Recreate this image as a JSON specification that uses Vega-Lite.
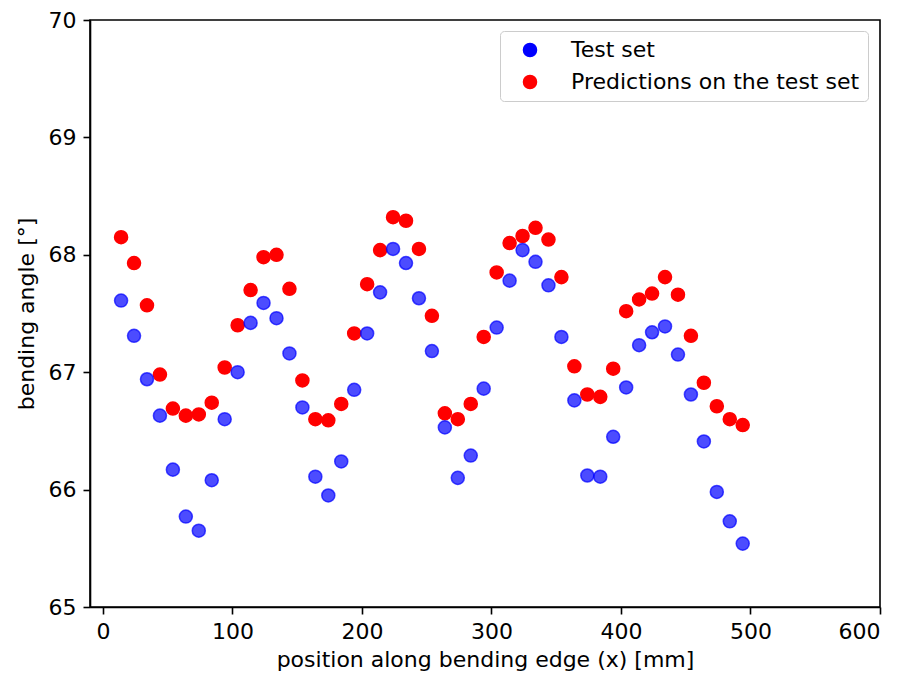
{
  "$schema": "https://vega.github.io/schema/vega-lite/v6.json",
  "width": 790,
  "height": 587,
  "autosize": {"type": "none"},
  "padding": {"left": 90, "top": 20, "right": 26, "bottom": 68},
  "background": "white",
  "config": {
    "font": "DejaVu Sans",
    "view": {"stroke": "black", "strokeWidth": 1.6},
    "axis": {
      "domainColor": "black", "domainWidth": 1.6,
      "tickColor": "black", "tickWidth": 1.6, "tickSize": 7,
      "labelColor": "black", "labelFontSize": 22, "labelFont": "DejaVu Sans", "labelPadding": 7,
      "titleColor": "black", "titleFontSize": 22, "titleFont": "DejaVu Sans", "titleFontWeight": "normal",
      "grid": false
    },
    "legend": {
      "labelFontSize": 22, "labelColor": "black", "labelFont": "DejaVu Sans", "labelLimit": 500,
      "symbolType": "circle", "symbolSize": 170, "symbolStrokeWidth": 1.5,
      "padding": 8, "symbolOffset": 11, "labelOffset": 30, "rowPadding": 10,
      "strokeColor": "#cccccc", "cornerRadius": 4, "fillColor": "rgba(255,255,255,0.8)"
    }
  },
  "data": {"values": [
    {"x":14,"angle":68.15,"series":"Predictions on the test set"},
    {"x":24,"angle":67.93,"series":"Predictions on the test set"},
    {"x":34,"angle":67.57,"series":"Predictions on the test set"},
    {"x":44,"angle":66.98,"series":"Predictions on the test set"},
    {"x":54,"angle":66.69,"series":"Predictions on the test set"},
    {"x":64,"angle":66.63,"series":"Predictions on the test set"},
    {"x":74,"angle":66.64,"series":"Predictions on the test set"},
    {"x":84,"angle":66.74,"series":"Predictions on the test set"},
    {"x":94,"angle":67.04,"series":"Predictions on the test set"},
    {"x":104,"angle":67.40,"series":"Predictions on the test set"},
    {"x":114,"angle":67.70,"series":"Predictions on the test set"},
    {"x":124,"angle":67.98,"series":"Predictions on the test set"},
    {"x":134,"angle":68.00,"series":"Predictions on the test set"},
    {"x":144,"angle":67.71,"series":"Predictions on the test set"},
    {"x":154,"angle":66.93,"series":"Predictions on the test set"},
    {"x":164,"angle":66.60,"series":"Predictions on the test set"},
    {"x":174,"angle":66.59,"series":"Predictions on the test set"},
    {"x":184,"angle":66.73,"series":"Predictions on the test set"},
    {"x":194,"angle":67.33,"series":"Predictions on the test set"},
    {"x":204,"angle":67.75,"series":"Predictions on the test set"},
    {"x":214,"angle":68.04,"series":"Predictions on the test set"},
    {"x":224,"angle":68.32,"series":"Predictions on the test set"},
    {"x":234,"angle":68.29,"series":"Predictions on the test set"},
    {"x":244,"angle":68.05,"series":"Predictions on the test set"},
    {"x":254,"angle":67.48,"series":"Predictions on the test set"},
    {"x":264,"angle":66.65,"series":"Predictions on the test set"},
    {"x":274,"angle":66.60,"series":"Predictions on the test set"},
    {"x":284,"angle":66.73,"series":"Predictions on the test set"},
    {"x":294,"angle":67.30,"series":"Predictions on the test set"},
    {"x":304,"angle":67.85,"series":"Predictions on the test set"},
    {"x":314,"angle":68.10,"series":"Predictions on the test set"},
    {"x":324,"angle":68.16,"series":"Predictions on the test set"},
    {"x":334,"angle":68.23,"series":"Predictions on the test set"},
    {"x":344,"angle":68.13,"series":"Predictions on the test set"},
    {"x":354,"angle":67.81,"series":"Predictions on the test set"},
    {"x":364,"angle":67.05,"series":"Predictions on the test set"},
    {"x":374,"angle":66.81,"series":"Predictions on the test set"},
    {"x":384,"angle":66.79,"series":"Predictions on the test set"},
    {"x":394,"angle":67.03,"series":"Predictions on the test set"},
    {"x":404,"angle":67.52,"series":"Predictions on the test set"},
    {"x":414,"angle":67.62,"series":"Predictions on the test set"},
    {"x":424,"angle":67.67,"series":"Predictions on the test set"},
    {"x":434,"angle":67.81,"series":"Predictions on the test set"},
    {"x":444,"angle":67.66,"series":"Predictions on the test set"},
    {"x":454,"angle":67.31,"series":"Predictions on the test set"},
    {"x":464,"angle":66.91,"series":"Predictions on the test set"},
    {"x":474,"angle":66.71,"series":"Predictions on the test set"},
    {"x":484,"angle":66.60,"series":"Predictions on the test set"},
    {"x":494,"angle":66.55,"series":"Predictions on the test set"},
    {"x":14,"angle":67.61,"series":"Test set"},
    {"x":24,"angle":67.31,"series":"Test set"},
    {"x":34,"angle":66.94,"series":"Test set"},
    {"x":44,"angle":66.63,"series":"Test set"},
    {"x":54,"angle":66.17,"series":"Test set"},
    {"x":64,"angle":65.77,"series":"Test set"},
    {"x":74,"angle":65.65,"series":"Test set"},
    {"x":84,"angle":66.08,"series":"Test set"},
    {"x":94,"angle":66.60,"series":"Test set"},
    {"x":104,"angle":67.00,"series":"Test set"},
    {"x":114,"angle":67.42,"series":"Test set"},
    {"x":124,"angle":67.59,"series":"Test set"},
    {"x":134,"angle":67.46,"series":"Test set"},
    {"x":144,"angle":67.16,"series":"Test set"},
    {"x":154,"angle":66.70,"series":"Test set"},
    {"x":164,"angle":66.11,"series":"Test set"},
    {"x":174,"angle":65.95,"series":"Test set"},
    {"x":184,"angle":66.24,"series":"Test set"},
    {"x":194,"angle":66.85,"series":"Test set"},
    {"x":204,"angle":67.33,"series":"Test set"},
    {"x":214,"angle":67.68,"series":"Test set"},
    {"x":224,"angle":68.05,"series":"Test set"},
    {"x":234,"angle":67.93,"series":"Test set"},
    {"x":244,"angle":67.63,"series":"Test set"},
    {"x":254,"angle":67.18,"series":"Test set"},
    {"x":264,"angle":66.53,"series":"Test set"},
    {"x":274,"angle":66.10,"series":"Test set"},
    {"x":284,"angle":66.29,"series":"Test set"},
    {"x":294,"angle":66.86,"series":"Test set"},
    {"x":304,"angle":67.38,"series":"Test set"},
    {"x":314,"angle":67.78,"series":"Test set"},
    {"x":324,"angle":68.04,"series":"Test set"},
    {"x":334,"angle":67.94,"series":"Test set"},
    {"x":344,"angle":67.74,"series":"Test set"},
    {"x":354,"angle":67.30,"series":"Test set"},
    {"x":364,"angle":66.76,"series":"Test set"},
    {"x":374,"angle":66.12,"series":"Test set"},
    {"x":384,"angle":66.11,"series":"Test set"},
    {"x":394,"angle":66.45,"series":"Test set"},
    {"x":404,"angle":66.87,"series":"Test set"},
    {"x":414,"angle":67.23,"series":"Test set"},
    {"x":424,"angle":67.34,"series":"Test set"},
    {"x":434,"angle":67.39,"series":"Test set"},
    {"x":444,"angle":67.15,"series":"Test set"},
    {"x":454,"angle":66.81,"series":"Test set"},
    {"x":464,"angle":66.41,"series":"Test set"},
    {"x":474,"angle":65.98,"series":"Test set"},
    {"x":484,"angle":65.73,"series":"Test set"},
    {"x":494,"angle":65.54,"series":"Test set"}
  ]},
  "mark": {"type": "point", "filled": true, "size": 170, "strokeWidth": 1.5, "opacity": 1},
  "encoding": {
    "x": {
      "field": "x", "type": "quantitative",
      "scale": {"domain": [-10, 600], "nice": false, "zero": false},
      "axis": {"values": [0, 100, 200, 300, 400, 500, 600], "title": "position along bending edge (x) [mm]", "titlePadding": 7}
    },
    "y": {
      "field": "angle", "type": "quantitative",
      "scale": {"domain": [65, 70], "nice": false, "zero": false},
      "axis": {"values": [65, 66, 67, 68, 69, 70], "title": "bending angle [°]", "titlePadding": 10}
    },
    "color": {
      "field": "series", "type": "nominal",
      "scale": {"domain": ["Test set", "Predictions on the test set"], "range": ["blue", "red"]},
      "legend": {
        "title": null, "orient": "none", "legendX": 410, "legendY": 11,
        "encode": {"symbols": {"update": {
          "fill": {"signal": "datum.value === 'Test set' ? '#4d4dff' : '#ff0000'"},
          "stroke": {"signal": "datum.value === 'Test set' ? '#1a1aff' : '#ff0000'"},
          "fillOpacity": {"value": 1},
          "strokeOpacity": {"value": 1}
        }}}
      }
    },
    "stroke": {
      "field": "series", "type": "nominal",
      "scale": {"domain": ["Test set", "Predictions on the test set"], "range": ["blue", "red"]},
      "legend": {
        "title": null, "orient": "none", "legendX": 410, "legendY": 11,
        "encode": {"symbols": {"update": {
          "fill": {"signal": "datum.value === 'Test set' ? '#4d4dff' : '#ff0000'"},
          "stroke": {"signal": "datum.value === 'Test set' ? '#1a1aff' : '#ff0000'"},
          "fillOpacity": {"value": 1},
          "strokeOpacity": {"value": 1}
        }}}
      }
    },
    "fillOpacity": {
      "field": "series", "type": "nominal",
      "scale": {"domain": ["Test set", "Predictions on the test set"], "range": [0.7, 1]},
      "legend": null
    },
    "strokeOpacity": {
      "field": "series", "type": "nominal",
      "scale": {"domain": ["Test set", "Predictions on the test set"], "range": [0.7, 1]},
      "legend": null
    }
  }
}
